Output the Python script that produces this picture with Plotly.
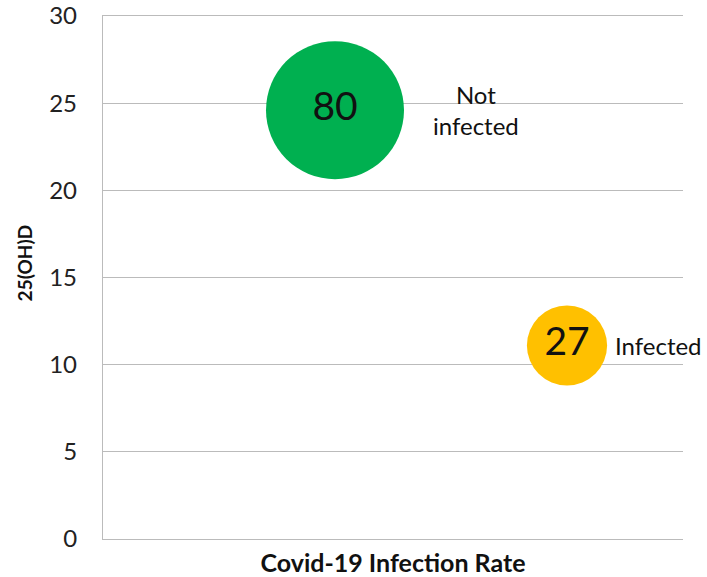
import plotly.graph_objects as go

# Data
groups = ["Not infected", "Infected"]
group_labels = ["Not<br>infected", "Infected"]
x_pos = [4.0, 8.0]
vitd = [24.6, 11.1]           # 25(OH)D
counts = [80, 27]             # bubble sizes / labels
colors = ["#00B050", "#FFC000"]
y_ticks = [0, 5, 10, 15, 20, 25, 30]

FONT = "Lato"
GRID = "#BBBBBB"
max_diam = 138
sizeref = 2.0 * max(counts) / (max_diam ** 2)

fig = go.Figure()
fig.add_trace(go.Scatter(
    x=x_pos, y=vitd,
    mode="markers+text",
    marker=dict(size=counts, sizemode="area", sizeref=sizeref,
                color=colors, line=dict(width=0), opacity=1),
    text=[str(c) for c in counts],
    textposition="middle center",
    textfont=dict(family=FONT, size=39, color="#111111"),
    hoverinfo="skip",
    showlegend=False,
    cliponaxis=False,
))

shifts = [96, 46]
for xv, yv, lab, sh in zip(x_pos, vitd, group_labels, shifts):
    fig.add_annotation(x=xv, y=yv, xref="x", yref="y", text=lab,
                       showarrow=False, xanchor="left", yanchor="middle",
                       xshift=sh, align="center",
                       font=dict(family=FONT, size=24, color="#111111"))

fig.add_annotation(x=-79/580, y=0.527, xref="paper", yref="paper",
                   text="<b>25(OH)D</b>", textangle=-90, showarrow=False,
                   xanchor="center", yanchor="middle",
                   font=dict(family=FONT, size=19, color="#111111"))

fig.update_layout(
    width=707, height=577,
    margin=dict(l=103, r=24, t=16, b=38, autoexpand=False),
    paper_bgcolor="white", plot_bgcolor="white",
    xaxis=dict(range=[0, 10], showticklabels=False, showgrid=False,
               zeroline=False, showline=True, mirror=True,
               linecolor=GRID, linewidth=1.3, ticks="", automargin=False,
               title=dict(text="<b>Covid-19 Infection Rate</b>", standoff=17,
                          font=dict(family=FONT, size=25, color="#111111"))),
    yaxis=dict(range=[0, 30], tickvals=y_ticks, showgrid=True,
               gridcolor=GRID, gridwidth=1.3, zeroline=False,
               showline=True, linecolor=GRID, linewidth=1.3,
               ticks="", ticklabelstandoff=20, automargin=False,
               tickfont=dict(family=FONT, size=24, color="#222222")),
)

fig.write_html("out.html", config={"displayModeBar": False},
               post_script="document.body.style.margin='0';document.body.style.padding='0';")
